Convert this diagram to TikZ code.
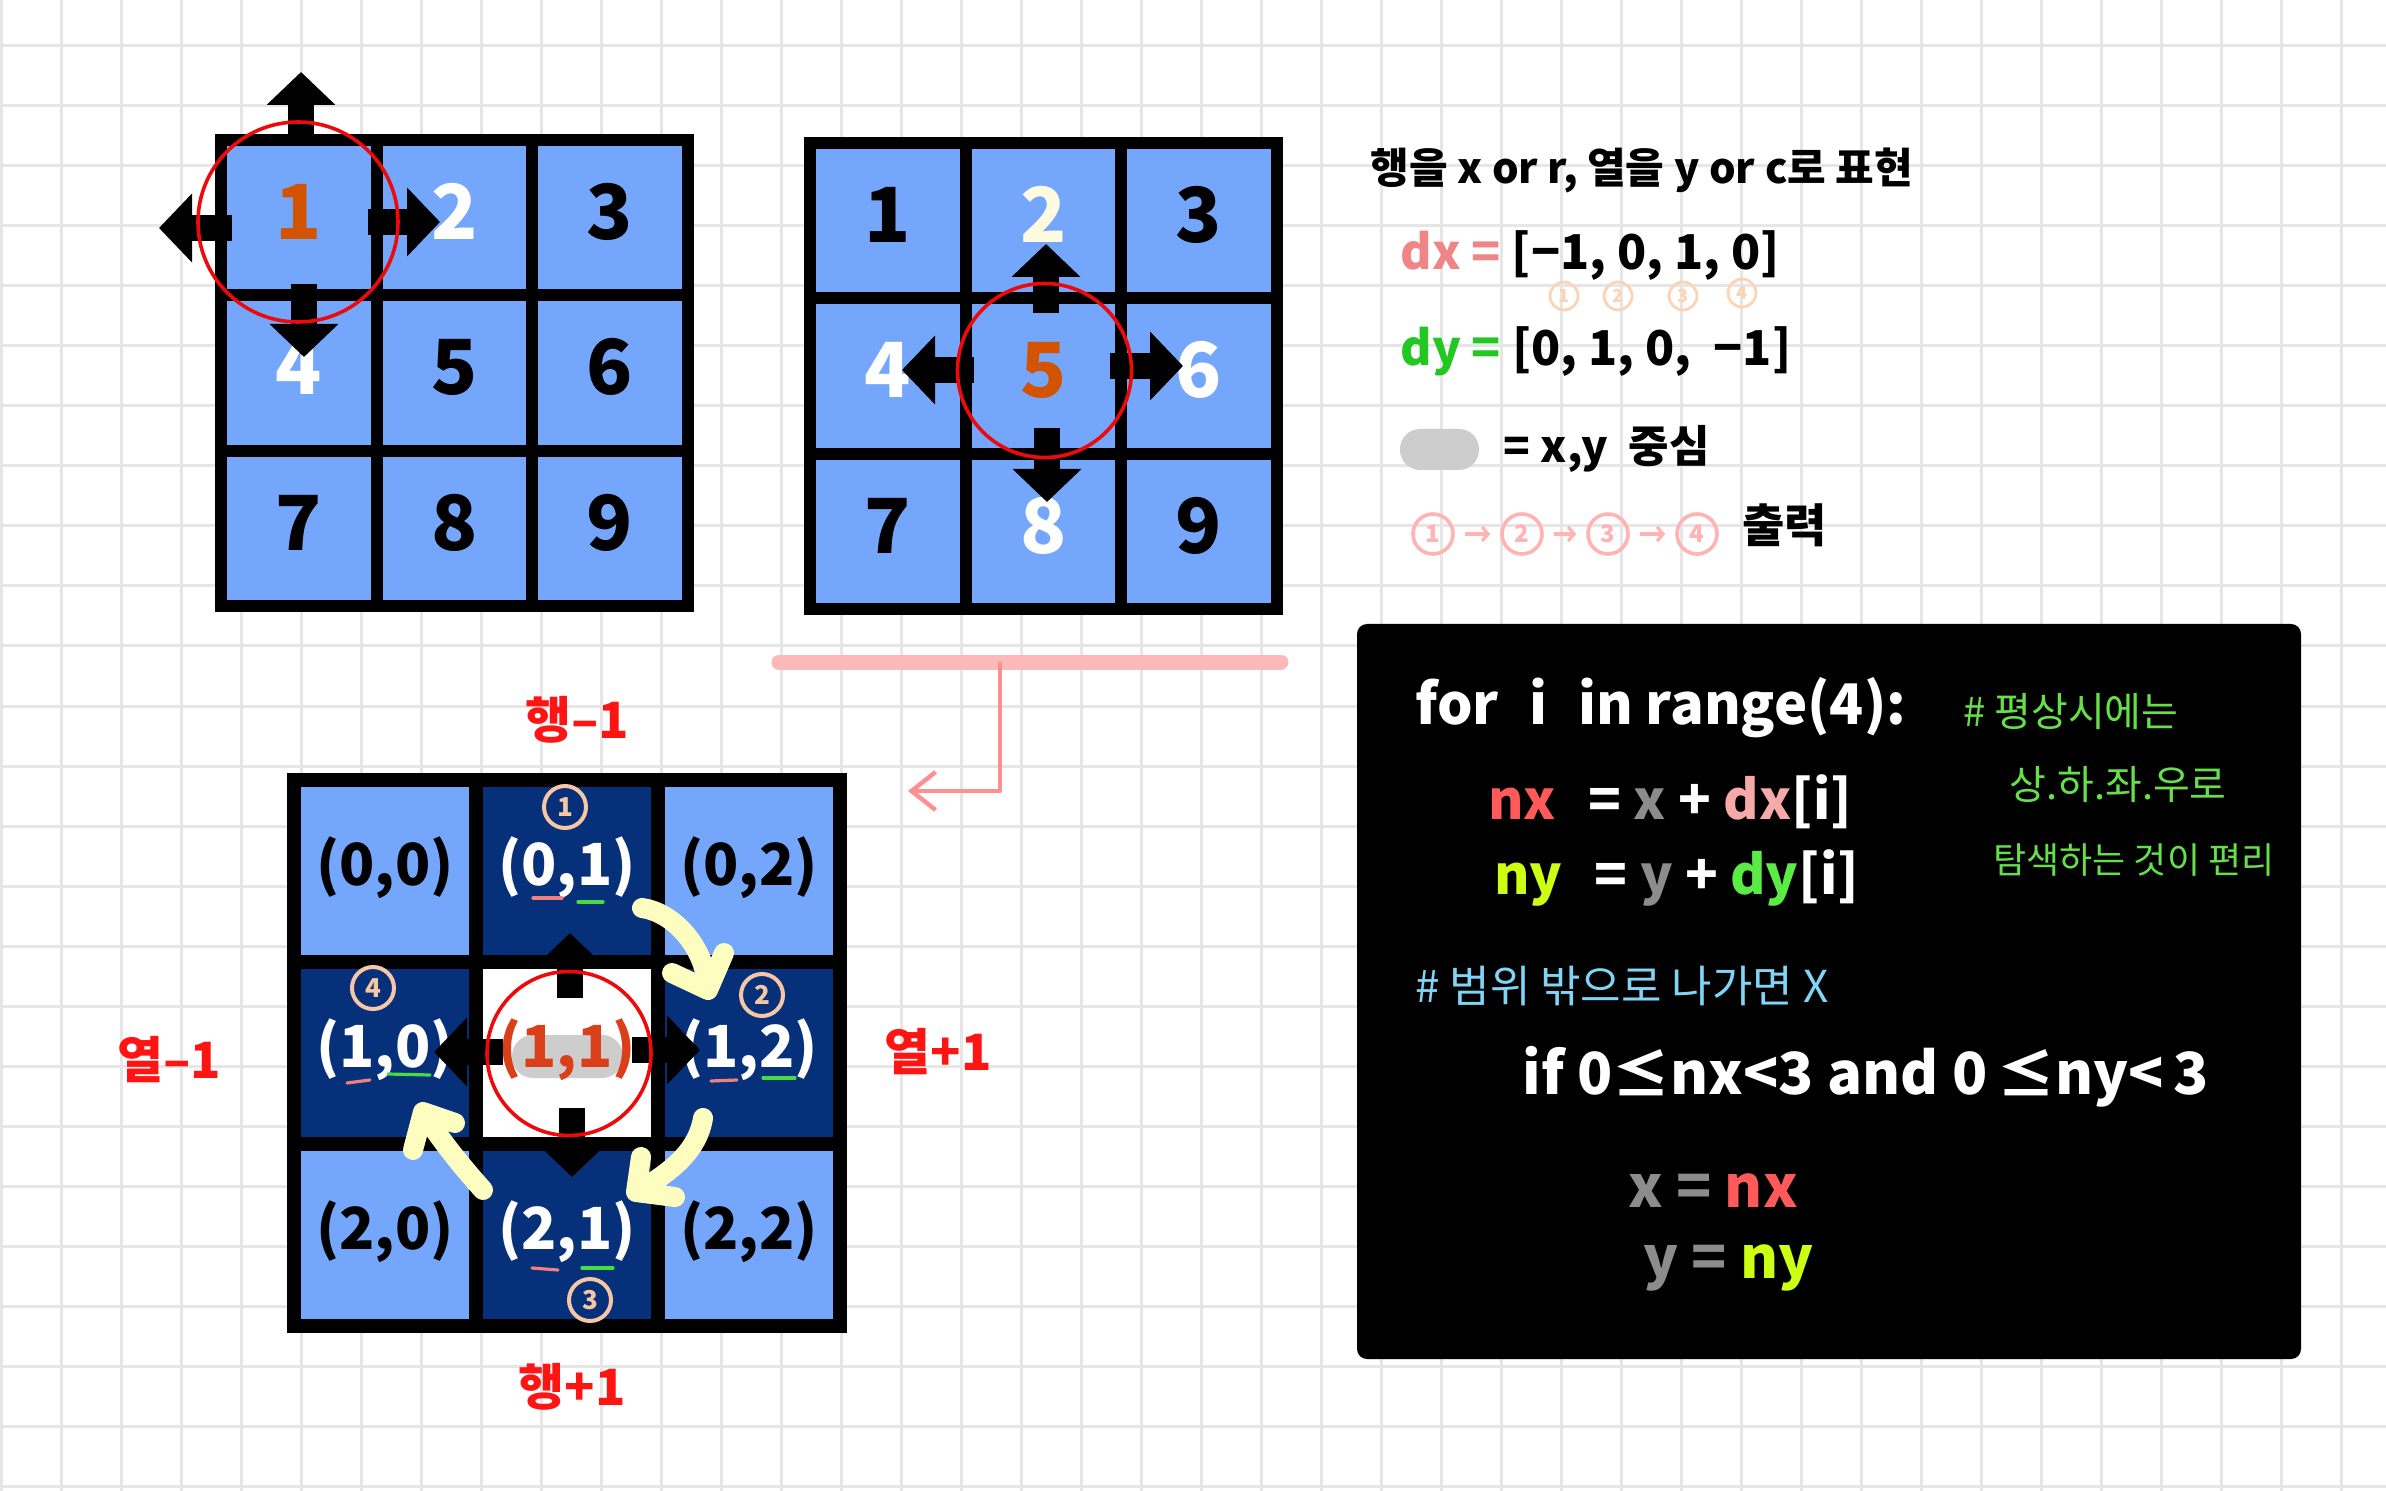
\documentclass[tikz,border=0pt]{standalone}
\usepackage{fontspec}
\setmainfont{Noto Sans}
\newfontfamily\kr{Noto Sans CJK KR}
\usetikzlibrary{arrows.meta,shapes.geometric}
\definecolor{gridc}{HTML}{E6E6E6}
\definecolor{cellblue}{HTML}{74A7FC}
\definecolor{navy}{HTML}{06307A}
\definecolor{orng}{HTML}{D35400}
\definecolor{orng2}{HTML}{D9401A}
\definecolor{cream}{HTML}{FFFBE0}
\definecolor{circred}{HTML}{EE0A0A}
\definecolor{pinkbar}{HTML}{FFB8B8}
\definecolor{pinkline}{HTML}{FF9090}
\definecolor{yell}{HTML}{FDFDBF}
\definecolor{peach}{HTML}{F7C6A4}
\definecolor{redlab}{HTML}{FF1414}
\definecolor{dxpink}{HTML}{F08585}
\definecolor{dygreen}{HTML}{22C722}
\definecolor{pillc}{HTML}{CDCDCD}
\definecolor{lpink}{HTML}{FFB3B3}
\definecolor{lpeach}{HTML}{FCD3B5}
\definecolor{codered}{HTML}{FF5A5A}
\definecolor{codepink}{HTML}{F5A9A9}
\definecolor{codegray}{HTML}{8C8C8C}
\definecolor{codelime}{HTML}{CCFF11}
\definecolor{codegreen}{HTML}{5BEB45}
\definecolor{cmtgreen}{HTML}{66E04A}
\definecolor{cmtblue}{HTML}{80D4F5}
\definecolor{ulpink}{HTML}{F08080}
\definecolor{ulgreen}{HTML}{44DD44}
\tikzset{
 gridln/.style={draw=gridc, line width=1.5pt},
 bluecell/.style={fill=cellblue, inner sep=0, minimum width=71.75pt, minimum height=71.75pt},
 bigcell/.style={inner sep=0, minimum width=84pt, minimum height=84pt},
 digit/.style={inner sep=0, font=\kr\fontsize{38}{38}\selectfont\bfseries},
 coordtxt/.style={inner sep=0, font=\kr\fontsize{29}{29}\selectfont\bfseries},
 blockarr/.style={draw=black, line width=13pt, -{Triangle[width=33.5pt,length=16.5pt]}},
 redcirc/.style={draw=circred, line width=1.8pt},
 yarr/.style={draw=yell, line width=10pt, line cap=round, line join=round},
 cnum/.style={circle, draw=peach, line width=2pt, text=peach, inner sep=0, minimum size=21pt, font=\kr\fontsize{13}{13}\selectfont\bfseries},
 ul/.style={line width=1.6pt, line cap=round},
 redlabel/.style={text=redlab, font=\kr\fontsize{25}{25}\selectfont\bfseries, inner sep=0},
 note/.style={anchor=west, inner sep=0, font=\kr\fontsize{21}{24}\selectfont\bfseries},
 codetxt/.style={anchor=west, inner sep=0, text=white, font=\kr\fontsize{28}{30}\selectfont\bfseries},
 cmt/.style={anchor=west, inner sep=0, font=\kr\fontsize{20}{24}\selectfont},
 smallnum/.style={circle, draw=lpeach, line width=1.4pt, text=lpeach, inner sep=0, minimum size=14pt, font=\kr\fontsize{9}{9}\selectfont\bfseries},
 seqnum/.style={circle, draw=lpink, line width=1.8pt, text=lpink, inner sep=0, minimum size=20pt, font=\kr\fontsize{12}{12}\selectfont\bfseries},
 seqarr/.style={draw=lpink, line width=1.6pt, shorten <=5pt, shorten >=5pt, -{Straight Barb[length=3pt,width=7pt]}},
}
\begin{document}
\begin{tikzpicture}[x=0.5pt,y=-0.5pt]
\useasboundingbox (0,0) rectangle (2386,1491);
\fill[white] (0,0) rectangle (2386,1491);
\foreach \i in {0,...,39} \draw[gridln] ({1.7+60*\i},0) -- ({1.7+60*\i},1491);
\foreach \j in {0,...,24} \draw[gridln] (0,{46+60*\j}) -- (2386,{46+60*\j});

% ---------- grid 1 ----------
\fill[black] (215,134) rectangle (693.5,612.5);
\foreach \rr in {0,1,2} \foreach \cc in {0,1,2}
  \node[bluecell] (g1c\rr\cc) at ({298.75+155.5*\cc},{217.75+155.5*\rr}) {};
\foreach \n/\cc/\rr/\col in {1/0/0/orng,2/1/0/white,3/2/0/black,4/0/1/white,5/1/1/black,6/2/1/black,7/0/2/black,8/1/2/black,9/2/2/black}
  \node[digit, text=\col] (g1n\n) at ([yshift=3pt]g1c\rr\cc.center) {\n};
\coordinate (g1us) at (301,137); \coordinate (g1ut) at (301,72);
\coordinate (g1ls) at (232,228); \coordinate (g1lt) at (159,228);
\coordinate (g1rs) at (368,222); \coordinate (g1rt) at (440,222);
\coordinate (g1ds) at (304,284); \coordinate (g1dt) at (304,357);
\draw[blockarr] (g1us) -- (g1ut);
\draw[blockarr] (g1ls) -- (g1lt);
\draw[blockarr] (g1rs) -- (g1rt);
\draw[blockarr] (g1ds) -- (g1dt);
\draw[redcirc] (298,222) circle[radius=100];

% ---------- grid 2 ----------
\fill[black] (804,137) rectangle (1282.5,615.5);
\foreach \rr in {0,1,2} \foreach \cc in {0,1,2}
  \node[bluecell] (g2c\rr\cc) at ({887.75+155.5*\cc},{220.75+155.5*\rr}) {};
\foreach \n/\cc/\rr/\col in {1/0/0/black,2/1/0/cream,3/2/0/black,4/0/1/white,5/1/1/orng,6/2/1/white,7/0/2/black,8/1/2/white,9/2/2/black}
  \node[digit, text=\col] (g2n\n) at ([yshift=3pt]g2c\rr\cc.center) {\n};
\coordinate (g2us) at (1046,313); \coordinate (g2ut) at (1046,244);
\coordinate (g2ls) at (974,370); \coordinate (g2lt) at (902,370);
\coordinate (g2rs) at (1110,366); \coordinate (g2rt) at (1183,366);
\coordinate (g2ds) at (1047,428); \coordinate (g2dt) at (1047,502);
\draw[blockarr] (g2us) -- (g2ut);
\draw[blockarr] (g2ls) -- (g2lt);
\draw[blockarr] (g2rs) -- (g2rt);
\draw[blockarr] (g2ds) -- (g2dt);
\draw[redcirc] (1044.5,370.5) circle[radius=87];

% ---------- pink connector ----------
\coordinate (pbl) at (779,662); \coordinate (pbr) at (1281,662);
\coordinate (pbj) at (1000,662); \coordinate (pbe) at (1000,791); \coordinate (pbt) at (908,791);
\draw[draw=pinkbar, line width=7.5pt, line cap=round] (pbl) -- (pbr);
\draw[draw=pinkline, line width=2.2pt, line join=round, -{Straight Barb[length=12pt,width=19pt]}] (pbj) -- (pbe) -- (pbt);

% ---------- grid 3 ----------
\fill[black] (287,773) rectangle (847,1333);
\node[bigcell, fill=cellblue] (g3c00) at (385,871) {};
\node[bigcell, fill=navy] (g3c01) at (567,871) {};
\node[bigcell, fill=cellblue] (g3c02) at (749,871) {};
\node[bigcell, fill=navy] (g3c10) at (385,1053) {};
\node[bigcell, fill=white] (g3c11) at (567,1053) {};
\node[bigcell, fill=navy] (g3c12) at (749,1053) {};
\node[bigcell, fill=cellblue] (g3c20) at (385,1235) {};
\node[bigcell, fill=navy] (g3c21) at (567,1235) {};
\node[bigcell, fill=cellblue] (g3c22) at (749,1235) {};
\fill[pillc, rounded corners=10.5pt] (512,1035) rectangle (623,1078);
\node[coordtxt, text=black] (g3t00) at ([yshift=1.5pt]g3c00.center) {(0,0)};
\node[coordtxt, text=white] (g3t01) at ([yshift=1.5pt]g3c01.center) {(0,1)};
\node[coordtxt, text=black] (g3t02) at ([yshift=1.5pt]g3c02.center) {(0,2)};
\node[coordtxt, text=white] (g3t10) at ([yshift=1.5pt]g3c10.center) {(1,0)};
\node[coordtxt, text=orng2] (g3t11) at ([yshift=1.5pt]g3c11.center) {(1,1)};
\node[coordtxt, text=white] (g3t12) at ([yshift=1.5pt]g3c12.center) {(1,2)};
\node[coordtxt, text=black] (g3t20) at ([yshift=1.5pt]g3c20.center) {(2,0)};
\node[coordtxt, text=white] (g3t21) at ([yshift=1.5pt]g3c21.center) {(2,1)};
\node[coordtxt, text=black] (g3t22) at ([yshift=1.5pt]g3c22.center) {(2,2)};
% underlines
\draw[ul, ulpink] (533,898) -- (562,898); \draw[ul, ulgreen] (578,902) -- (603,902);
\draw[ul, ulpink] (347,1083) -- (370,1080); \draw[ul, ulgreen] (388,1074) -- (430,1075);
\draw[ul, ulpink] (711,1081) -- (737,1080); \draw[ul, ulgreen] (763,1078) -- (795,1078);
\draw[ul, ulpink] (532,1268) -- (558,1270); \draw[ul, ulgreen] (582,1268) -- (613,1268);
% block arrows
\coordinate (g3us) at (570,998); \coordinate (g3ut) at (570,933);
\coordinate (g3ls) at (503,1052); \coordinate (g3lt) at (434,1052);
\coordinate (g3rs) at (632,1050); \coordinate (g3rt) at (700,1050);
\coordinate (g3ds) at (572,1108); \coordinate (g3dt) at (572,1177);
\draw[blockarr] (g3us) -- (g3ut);
\draw[blockarr] (g3ls) -- (g3lt);
\draw[blockarr] (g3rs) -- (g3rt);
\draw[blockarr] (g3ds) -- (g3dt);
\draw[redcirc] (569,1053.5) circle[radius=82];
% yellow arrows
\coordinate (y1s) at (642,908); \coordinate (y1t) at (708,990); \coordinate (y1a) at (724,953); \coordinate (y1b) at (672,973);
\coordinate (y2s) at (703,1118); \coordinate (y2t) at (636,1192); \coordinate (y2a) at (641,1157); \coordinate (y2b) at (675,1197);
\coordinate (y3s) at (483,1190); \coordinate (y3t) at (423,1112); \coordinate (y3a) at (455,1123); \coordinate (y3b) at (413,1150);
\draw[yarr] (y1s) .. controls (672,912) and (705,945) .. (y1t) -- (y1a) (y1t) -- (y1b);
\draw[yarr] (y2s) .. controls (698,1150) and (672,1172) .. (y2t) -- (y2a) (y2t) -- (y2b);
\draw[yarr] (y3s) .. controls (465,1170) and (440,1140) .. (y3t) -- (y3a) (y3t) -- (y3b);
% circled order numbers
\node[cnum] (o1) at (565,807) {1};
\node[cnum] (o2) at (762,995) {2};
\node[cnum] (o3) at (590,1300) {3};
\node[cnum] (o4) at (373,988) {4};
% red labels
\node[redlabel] (lt) at (577,720) {행–1};
\node[redlabel] (lb) at (572,1387) {행+1};
\node[redlabel] (ll) at (169,1060) {열–1};
\node[redlabel] (lr) at (938,1052) {열+1};

% ---------- notes ----------
\node[note] (hdr) at (1370,170) {행을 x or r, 열을 y or c로 표현};
\node[note, font=\kr\fontsize{24}{26}\selectfont\bfseries] (dxl) at (1400,256) {\textcolor{dxpink}{dx =} [−1,\ 0,\ 1,\ 0]};
\node[smallnum] (s1) at (1564,296) {1};
\node[smallnum] (s2) at (1618,296) {2};
\node[smallnum] (s3) at (1683,296) {3};
\node[smallnum] (s4) at (1742,293) {4};
\node[note, font=\kr\fontsize{24}{26}\selectfont\bfseries] (dyl) at (1400,352) {\textcolor{dygreen}{dy =} [0,\ 1,\ 0,\ \ −1]};
\node[fill=pillc, rounded corners=10pt, minimum width=39.5pt, minimum height=20.5pt, inner sep=0] (pill) at (1439.5,449.5) {};
\node[note, font=\kr\fontsize{22}{24}\selectfont\bfseries] (pilltxt) at (1503,449) {= x,y \ 중심};
\node[seqnum] (q1) at (1433,534) {1};
\node[seqnum] (q2) at (1522,534) {2};
\node[seqnum] (q3) at (1608,534) {3};
\node[seqnum] (q4) at (1697,534) {4};
\draw[seqarr] (q1) -- (q2);
\draw[seqarr] (q2) -- (q3);
\draw[seqarr] (q3) -- (q4);
\node[note, font=\kr\fontsize{23}{24}\selectfont\bfseries] (outl) at (1742,525) {출력};

% ---------- code box ----------
\node[fill=black, rounded corners=5pt, minimum width=472pt, minimum height=367.5pt, inner sep=0] (codebox) at (1829,991.5) {};
\node[codetxt] (c1) at (1415,708) {for\hspace{0.55em}i\hspace{0.55em}in range(4):};
\node[codetxt, font=\kr\fontsize{27}{30}\selectfont\bfseries] (c2) at (1488,802) {\textcolor{codered}{nx}\hspace{0.6em}= \textcolor{codegray}{x} + \textcolor{codepink}{dx}[i]};
\node[codetxt, font=\kr\fontsize{27}{30}\selectfont\bfseries] (c3) at (1494,878) {\textcolor{codelime}{ny}\hspace{0.6em}= \textcolor{codegray}{y} + \textcolor{codegreen}{dy}[i]};
\node[cmt, text=cmtgreen] (m1) at (1963,712) {\# 평상시에는};
\node[cmt, text=cmtgreen] (m2) at (2009,785) {상.하.좌.우로};
\node[cmt, text=cmtgreen, font=\kr\fontsize{18}{24}\selectfont] (m3) at (1993,860) {탐색하는 것이 편리};
\node[cmt, text=cmtblue, font=\kr\fontsize{22}{24}\selectfont] (m4) at (1415,986) {\# 범위 밖으로 나가면 X};
\node[codetxt, font=\kr\fontsize{29}{30}\selectfont\bfseries] (c4) at (1522,1077) {if 0≤nx<3 and 0\,≤ny<\,3};
\node[codetxt, font=\kr\fontsize{29}{30}\selectfont\bfseries] (c5) at (1628,1191) {\textcolor{codegray}{x =}\ \textcolor{codered}{nx}};
\node[codetxt, font=\kr\fontsize{29}{30}\selectfont\bfseries] (c6) at (1643,1268) {\textcolor{codegray}{y =} \textcolor{codelime}{ny}};
\end{tikzpicture}
\end{document}
